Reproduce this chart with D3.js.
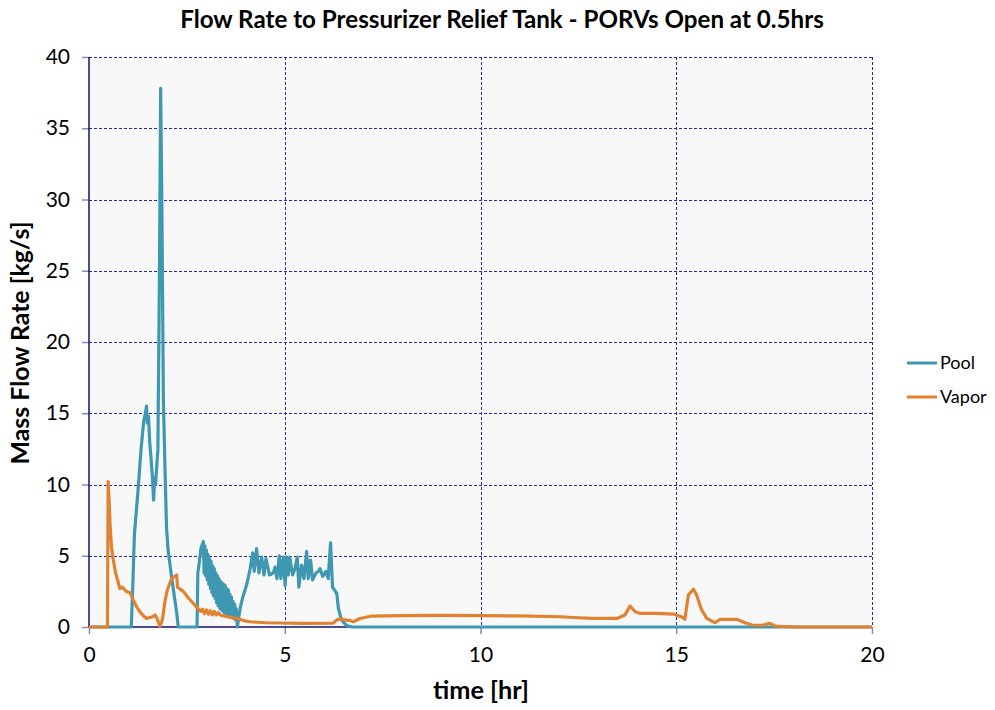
<!DOCTYPE html>
<html><head><meta charset="utf-8">
<script src="https://cdn.jsdelivr.net/npm/d3@7"></script>
<style>body{margin:0;background:#fff;} svg{display:block;font-family:Lato,"Open Sans",sans-serif;}</style>
</head><body><svg id="c" width="995" height="710"></svg>
<script>
const title = "Flow Rate to Pressurizer Relief Tank - PORVs Open at 0.5hrs";
const xLabel = "time [hr]";
const yLabel = "Mass Flow Rate [kg/s]";
const xTicks = [0, 5, 10, 15, 20];
const yTicks = [0, 5, 10, 15, 20, 25, 30, 35, 40];
const seriesNames = ["Pool", "Vapor"];
const seriesColors = ["#3f98b2", "#e0822f"];

// Pool: time [hr] and mass flow [kg/s]
const poolT = [0,1.08,1.12,1.16,1.25,1.33,1.40,1.44,1.47,1.49,1.52,1.55,1.58,1.62,1.65,1.68,1.70,1.76,1.80,1.83,1.86,1.90,1.94,1.98,2.02,2.11,2.24,2.28,2.76,2.78,2.82,2.86,
 2.92,2.94,2.96,2.98,3.00,3.02,3.04,3.06,3.08,3.10,3.12,3.14,3.16,3.18,3.20,3.22,3.24,3.26,3.28,3.30,3.32,3.34,3.36,3.38,3.40,3.42,3.44,3.46,3.48,3.50,3.52,3.54,3.56,3.58,3.60,3.62,3.64,3.66,3.68,3.70,3.72,3.74,3.76,
 3.79,3.82,3.86,3.92,4.03,4.11,4.18,4.22,4.28,4.34,4.41,4.47,4.52,4.61,4.71,4.75,4.80,4.86,4.90,4.96,5.01,5.05,5.09,5.13,5.20,5.26,5.32,5.36,5.43,5.49,5.56,5.60,5.66,5.71,5.80,5.86,5.90,5.97,6.05,6.11,6.17,6.22,6.33,6.37,6.45,6.58,6.71,20];
const poolV = [0,0,3.0,6.5,9.5,12.5,14.5,15.0,15.5,14.3,14.8,13.0,12.0,10.5,8.9,10.5,10.0,12.5,25,37.8,30,15.9,11.2,7.0,5.4,3.5,1.0,0,0,3.8,4.6,5.5,
 6.0,3.8,5.7,3.6,5.4,3.3,5.1,3.0,4.8,2.7,4.6,2.4,4.3,2.2,4.1,2.0,3.8,1.7,3.6,1.5,3.4,1.3,3.2,1.2,3.1,1.1,3.0,1.0,2.9,0.95,2.7,0.85,2.6,0.8,2.3,0.7,2.1,0.65,1.8,0.6,1.6,0.5,1.3,
 0,0.6,1.3,2.0,3.0,4.0,5.2,3.9,5.5,3.8,4.9,3.65,4.8,3.65,3.8,4.2,3.4,5.0,3.4,4.9,2.9,4.9,3.65,4.9,3.65,4.1,4.9,2.8,4.35,3.4,5.3,3.4,4.7,3.3,3.8,3.9,4.1,3.55,3.9,3.4,5.9,2.8,2.35,1.3,0.5,0.1,0,0];

// Vapor: time [hr] and mass flow [kg/s]
const vaporT = [0,0.47,0.49,0.52,0.54,0.58,0.62,0.68,0.75,0.79,0.85,0.95,1.05,1.13,1.22,1.30,1.38,1.47,1.60,1.69,1.74,1.81,1.85,1.88,1.94,2.00,2.11,2.24,2.26,2.41,2.55,2.75,2.85,
 2.90,2.95,3.00,3.05,3.10,3.15,3.20,3.25,3.30,3.35,3.50,3.77,3.95,4.11,4.50,4.88,5.50,6.24,6.33,6.41,6.67,6.75,6.92,7.22,8,9,10,11,12.03,12.5,12.88,13.48,13.69,13.82,13.95,14.07,14.5,14.93,15.15,15.22,15.31,15.44,15.52,15.65,15.78,15.99,16.12,16.54,16.76,16.93,17.2,17.39,17.52,17.98,20];
const vaporV = [0,0,10.2,8.5,7.0,5.5,4.7,3.8,3.1,2.7,2.8,2.5,2.4,1.9,1.4,1.07,0.8,0.6,0.7,0.84,0.6,0.05,0.3,0.6,1.8,2.6,3.4,3.65,2.8,2.5,2.0,1.4,1.1,
 1.25,0.95,1.2,0.9,1.15,0.85,1.1,0.85,1.0,0.84,0.75,0.6,0.45,0.37,0.3,0.28,0.26,0.27,0.5,0.55,0.45,0.37,0.6,0.77,0.8,0.82,0.8,0.78,0.72,0.65,0.61,0.6,0.84,1.47,1.07,0.96,0.95,0.91,0.7,0.54,2.25,2.65,2.25,1.2,0.6,0.3,0.54,0.54,0.3,0.14,0.12,0.26,0.07,0,0];

const svg = d3.select("#c");
const m = {l:89, t:57, r:872, b:627};
const x = d3.scaleLinear().domain([0,20]).range([m.l, m.r]);
const y = d3.scaleLinear().domain([0,40]).range([m.b, m.t]);

function fit(sel, target){
  const n = sel.node(); const fs = parseFloat(sel.attr("font-size"));
  const w = n.getComputedTextLength();
  if (w > 0) sel.attr("font-size", (fs*target/w).toFixed(2));
}

svg.append("rect").attr("x",m.l).attr("y",m.t).attr("width",m.r-m.l).attr("height",m.b-m.t).attr("fill","#f8f8f8");

const grid = svg.append("g");
grid.selectAll("line.h").data(yTicks.filter(d=>d>0)).join("line")
  .attr("x1",m.l).attr("x2",m.r).attr("y1",d=>Math.round(y(d))+0.5).attr("y2",d=>Math.round(y(d))+0.5)
  .attr("stroke","#2a2aa0").attr("stroke-width",1).attr("stroke-dasharray","3,2");
grid.selectAll("line.v").data(xTicks.filter(d=>d>0)).join("line")
  .attr("y1",m.t).attr("y2",m.b).attr("x1",d=>Math.round(x(d))+0.5).attr("x2",d=>Math.round(x(d))+0.5)
  .attr("stroke","#2a2aa0").attr("stroke-width",1).attr("stroke-dasharray","3,2");

const xAxis = d3.axisBottom(x).tickValues(xTicks).tickSize(7).tickPadding(13).tickFormat(d3.format("d"));
const yAxis = d3.axisLeft(y).tickValues(yTicks).tickSize(7).tickPadding(12).tickFormat(d3.format("d"));
const gx = svg.append("g").attr("transform",`translate(0,${m.b})`).call(xAxis);
const gy = svg.append("g").attr("transform",`translate(${m.l},0)`).call(yAxis);
[gx,gy].forEach(g=>{
  g.attr("font-family",null).attr("font-size",null);
  g.select(".domain").remove();
  g.selectAll(".tick line").attr("stroke","#8a8ab8").attr("stroke-width",1.5);
  g.selectAll(".tick text").attr("font-size",21).attr("fill","#000");
});
svg.append("line").attr("x1",m.l).attr("x2",m.l).attr("y1",m.t).attr("y2",m.b).attr("stroke","#101070").attr("stroke-width",1.5);
svg.append("line").attr("x1",m.l).attr("x2",m.r).attr("y1",m.b).attr("y2",m.b).attr("stroke","#101070").attr("stroke-width",1.5);

const line = d3.line().x(d=>x(d[0])).y(d=>y(d[1]));
const poolData = poolT.map((t,i)=>[t,poolV[i]]);
const vaporData = vaporT.map((t,i)=>[t,vaporV[i]]);
const plot = svg.append("g");
plot.append("path").datum(poolData).attr("d",line).attr("fill","none").attr("stroke",seriesColors[0]).attr("stroke-width",3.2).attr("stroke-linejoin","round");
plot.append("path").datum(vaporData).attr("d",line).attr("fill","none").attr("stroke",seriesColors[1]).attr("stroke-width",3.2).attr("stroke-linejoin","round");

const tt = svg.append("text").attr("x",502).attr("y",28).attr("text-anchor","middle").attr("font-size",20).attr("font-weight","bold").text(title);
fit(tt, 644);
const xl = svg.append("text").attr("x",481).attr("y",699).attr("text-anchor","middle").attr("font-size",20).attr("font-weight","bold").text(xLabel);
fit(xl, 96);
const yl = svg.append("text").attr("transform","translate(29,343) rotate(-90)").attr("text-anchor","middle").attr("font-size",20).attr("font-weight","bold").text(yLabel);
fit(yl, 243);

const lg = svg.append("g");
seriesNames.forEach((n,i)=>{
  const ly = 363 + i*34;
  lg.append("line").attr("x1",907).attr("x2",937).attr("y1",ly).attr("y2",ly).attr("stroke",seriesColors[i]).attr("stroke-width",3);
  lg.append("text").attr("x",940).attr("y",ly+6).attr("font-size",18).text(n);
});
</script></body></html>
